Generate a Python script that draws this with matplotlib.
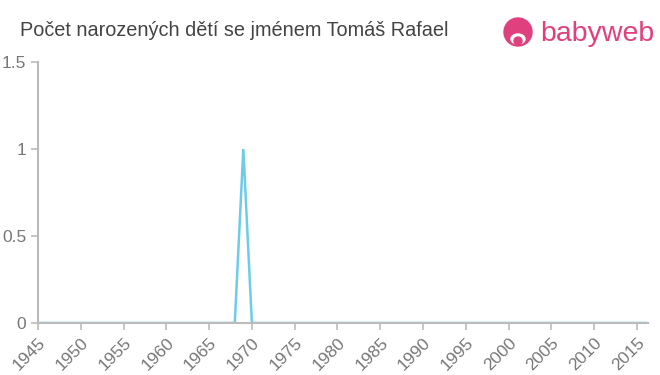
import matplotlib.pyplot as plt
from matplotlib.patches import Circle, Ellipse

# data
years = list(range(1945, 2017))
births = [0] * len(years)
births[years.index(1969)] = 1
x_ticks = list(range(1945, 2016, 5))
y_ticks = [0, 0.5, 1, 1.5]
y_labels = ["0", "0.5", "1", "1.5"]

title = "Počet narozených dětí se jménem Tomáš Rafael"
line_color = "#6ecbea"
grey = "#bbbbbb"
pink = "#e0407e"

plt.rcParams["font.family"] = ["Liberation Sans", "DejaVu Sans"]
fig = plt.figure(figsize=(6.6, 3.75), dpi=100)
ax = fig.add_axes([38 / 660, 52 / 375, 610 / 660, 261 / 375])

ax.plot(years, births, color=line_color, lw=1.8, solid_joinstyle="miter")
ax.set_xlim(1945, 2016.3)
ax.set_ylim(0, 1.5)
ax.set_xticks(x_ticks)
ax.set_xticklabels([str(y) for y in x_ticks], rotation=45, ha="right",
                   rotation_mode="anchor")
ax.set_yticks(y_ticks)
ax.set_yticklabels(y_labels)
ax.tick_params(colors=grey, labelcolor="#777777", labelsize=12.5, length=5, width=1.2)
for s in ["top", "right"]:
    ax.spines[s].set_visible(False)
for s in ["left", "bottom"]:
    ax.spines[s].set_color(grey)
    ax.spines[s].set_linewidth(1.5)

fig.text(20 / 660, 1 - 31 / 375, title, fontsize=14.3, color="#444444", va="center")

# logo
lax = fig.add_axes([500 / 660, 1 - 52 / 375, 36 / 660, 36 / 375])
lax.set_xlim(0, 36)
lax.set_ylim(0, 36)
lax.set_aspect("equal")
lax.axis("off")
lax.add_patch(Circle((18, 20), 14, color=pink))
lax.add_patch(Ellipse((18, 13), 14, 10, color="white"))
lax.add_patch(Circle((18, 11), 4, color=pink))
fig.text(540 / 660, 1 - 34 / 375, "babyweb", fontsize=20.5, color=pink, va="center")

fig.savefig("out.png", dpi=100)
